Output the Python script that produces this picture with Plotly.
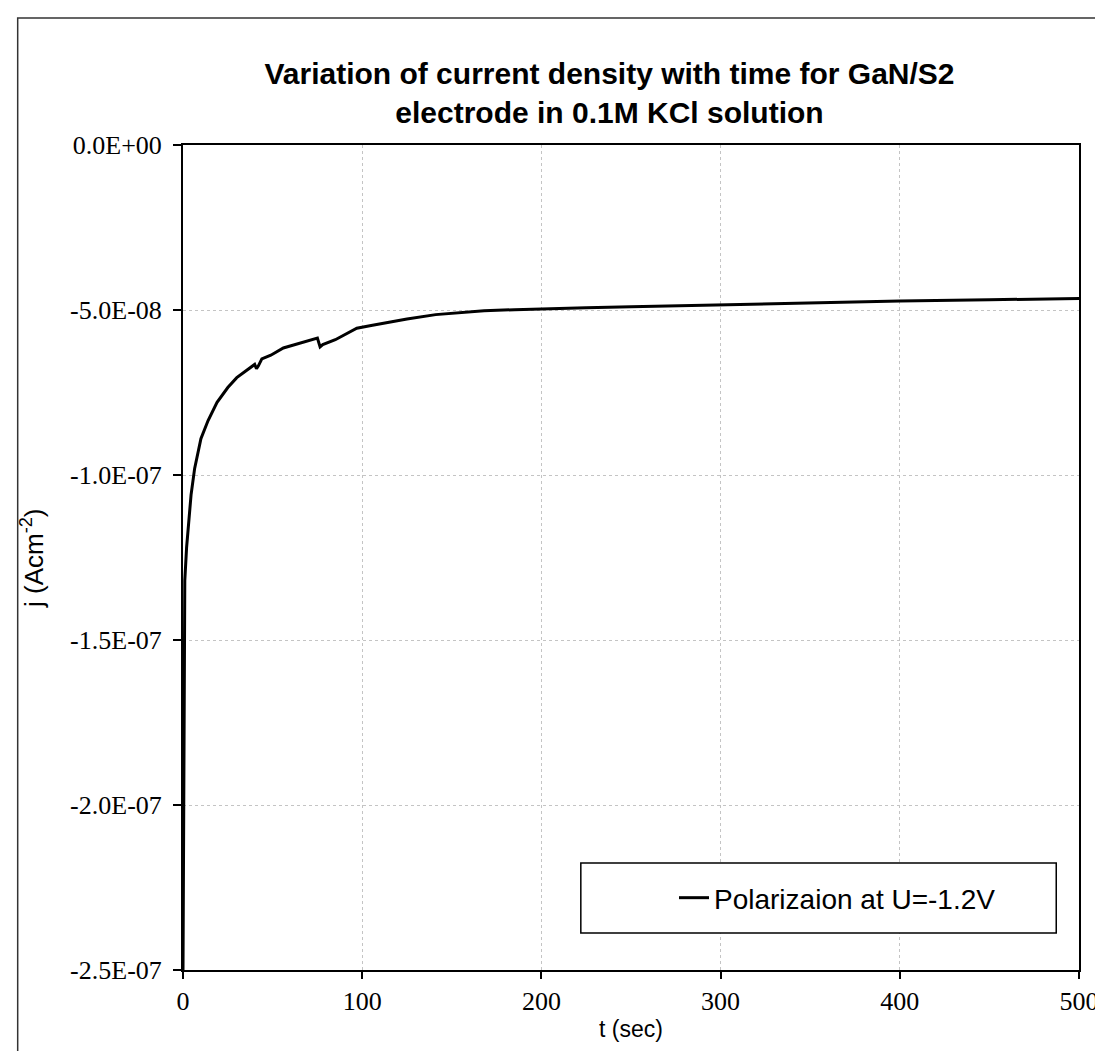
import plotly.graph_objects as go

# Data
time_s = [0, 0.5, 1, 2, 3, 4.5, 6.5, 8, 10, 14, 19, 25, 30, 35, 40, 41, 42, 44, 49, 56,
          65, 75, 76.5, 78, 85, 97, 105, 113, 125, 141, 155, 168, 185, 200, 225, 250,
          275, 300, 350, 400, 450, 500]
j_e8 = [-25.0, -17.5, -13.2, -12.2, -11.6, -10.6, -9.8, -9.4, -8.9, -8.35, -7.8, -7.35,
        -7.05, -6.85, -6.65, -6.78, -6.7, -6.48, -6.37, -6.15, -6.0, -5.85, -6.12, -6.05,
        -5.9, -5.55, -5.47, -5.39, -5.27, -5.14, -5.07, -5.02, -4.99, -4.96, -4.93, -4.9,
        -4.87, -4.85, -4.79, -4.73, -4.69, -4.65]
current_density = [v * 1e-8 for v in j_e8]

y_tickvals = [0, -5e-8, -1e-7, -1.5e-7, -2e-7, -2.5e-7]
y_ticktext = ["0.0E+00", "-5.0E-08", "-1.0E-07", "-1.5E-07", "-2.0E-07", "-2.5E-07"]
x_tickvals = [0, 100, 200, 300, 400, 500]
x_ticktext = ["0", "100", "200", "300", "400", "500"]

series_name = "Polarizaion at U=-1.2V"
title_text = "Variation of current density with time for GaN/S2<br>electrode in 0.1M KCl solution"
x_title = "t (sec)"
y_title = "j (Acm<sup>-2</sup>)"

SANS = "Liberation Sans, Arial"
SERIF = "Liberation Serif, Times New Roman"

fig = go.Figure()
fig.add_trace(go.Scatter(
    x=time_s, y=current_density, mode="lines", name=series_name,
    line=dict(color="black", width=3), showlegend=True,
))

fig.update_layout(
    width=1103, height=1051,
    margin=dict(l=175, r=23, t=137, b=89),
    paper_bgcolor="white", plot_bgcolor="white",
    title=dict(text=title_text, x=0.476, xref="paper", xanchor="center",
               y=0.928, yanchor="middle",
               font=dict(family=SANS, size=30, color="black", weight="bold")),
    showlegend=True,
    legend=dict(x=0.548, y=0.0873, xanchor="left", yanchor="middle",
                bgcolor="rgba(0,0,0,0)", borderwidth=0,
                font=dict(family=SANS, size=28, color="black")),
    shapes=[
        # legend box
        dict(type="rect", xref="paper", yref="paper", x0=0.444, x1=0.9746, y0=0.0448, y1=0.1297,
             line=dict(color="black", width=1.5), fillcolor="white", layer="above"),
        # outer frame
        dict(type="rect", xref="paper", yref="paper", x0=-0.1845, x1=1.021, y0=-0.12, y1=1.154,
             line=dict(color="#333333", width=1.5), fillcolor="rgba(0,0,0,0)", layer="below"),
    ],
    annotations=[
        dict(text=y_title, xref="paper", yref="paper", x=-0.168, y=0.5,
             xanchor="center", yanchor="middle", textangle=-90, showarrow=False,
             font=dict(family=SANS, size=26, color="black")),
    ],
)

fig.update_xaxes(
    range=[0, 500], tickvals=x_tickvals, ticktext=x_ticktext,
    showline=True, linecolor="black", linewidth=2, mirror=True,
    ticks="outside", ticklen=7, tickwidth=1.5, tickcolor="black",
    showgrid=True, gridcolor="#c4c4c4", gridwidth=1, griddash="dot",
    zeroline=False,
    tickfont=dict(family=SERIF, size=26, color="black"),
    title=dict(text=x_title, standoff=6,
               font=dict(family=SANS, size=23, color="black")),
)
fig.update_yaxes(
    range=[-2.5e-7, 0], tickvals=y_tickvals, ticktext=y_ticktext,
    showline=True, linecolor="black", linewidth=2, mirror=True,
    ticks="outside", ticklen=8, tickwidth=1.5, tickcolor="black",
    ticklabelstandoff=6,
    showgrid=True, gridcolor="#c4c4c4", gridwidth=1, griddash="dot",
    zeroline=False,
    tickfont=dict(family=SERIF, size=26, color="black"),
)

fig.write_html("out.html")
